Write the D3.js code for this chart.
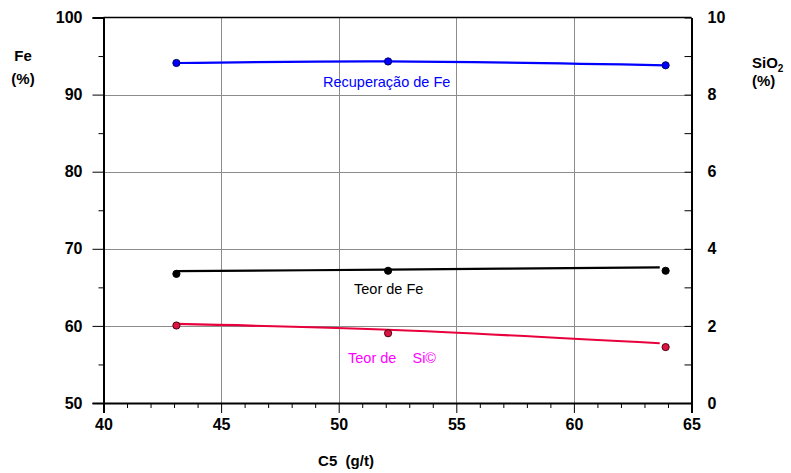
<!DOCTYPE html>
<html>
<head>
<meta charset="utf-8">
<script src="https://cdn.jsdelivr.net/npm/d3@7"></script>
<style>
  html, body { margin: 0; padding: 0; background: #ffffff; }
  svg { display: block; }
  text { font-family: "Liberation Sans", Arial, sans-serif; }
</style>
</head>
<body>
<svg id="chart" width="791" height="473"></svg>
<script>
// Collector dosage C5 (g/t)
const dosage = [43.1, 52.1, 63.9];

// Measured points
const recuperacaoFe = [94.1, 94.3, 93.8];   // Fe recovery (%) - left axis
const teorFe = [66.75, 67.15, 67.15];        // Fe grade (%) - left axis
const teorSiO2 = [2.01, 1.81, 1.45];        // SiO2 grade (%) - right axis

// Fitted trend curves for the grades
const trendDosage = [43.1, 52.1, 63.65];
const trendFe = [67.1, 67.3, 67.6];
const trendSiO2 = [2.05, 1.90, 1.55];

// Axis ticks
const xTicks = [40, 45, 50, 55, 60, 65];
const xMinorTicks = d3.range(40, 66, 1);
const yLeftTicks = [50, 60, 70, 80, 90, 100];
const yLeftMinor = [55, 65, 75, 85, 95];
const yRightTicks = [0, 2, 4, 6, 8, 10];
const yRightMinor = [1, 3, 5, 7, 9];

const plot = { left: 103.5, right: 691.5, top: 17.5, bottom: 403 };

const svg = d3.select("#chart");

const x = d3.scaleLinear().domain([40, 65]).range([plot.left, plot.right]);
const yL = d3.scaleLinear().domain([50, 100]).range([plot.bottom, plot.top]);
const yR = d3.scaleLinear().domain([0, 10]).range([plot.bottom, plot.top]);

// Gridlines
const grid = svg.append("g").attr("stroke", "#8c8c8c").attr("stroke-width", 1);
grid.selectAll("line.v").data(xTicks.slice(1, -1)).join("line")
  .attr("x1", d => Math.round(x(d)) + 0.5).attr("x2", d => Math.round(x(d)) + 0.5)
  .attr("y1", plot.top).attr("y2", plot.bottom);
grid.selectAll("line.h").data(yLeftTicks.slice(1, -1)).join("line")
  .attr("y1", d => Math.round(yL(d)) + 0.5).attr("y2", d => Math.round(yL(d)) + 0.5)
  .attr("x1", plot.left).attr("x2", plot.right);

// Left axis
const leftAxis = d3.axisLeft(yL).tickValues(yLeftTicks).tickSize(11).tickPadding(10).tickFormat(d3.format("d"));
const gL = svg.append("g").attr("transform", `translate(${plot.left},0)`).call(leftAxis);
gL.selectAll(".tick line").attr("stroke", "#000").attr("stroke-width", 1);
svg.append("g").attr("transform", `translate(${plot.left},0)`)
  .call(d3.axisLeft(yL).tickValues(yLeftMinor).tickSize(5).tickFormat(""))
  .call(g => g.select(".domain").remove());

// Right axis (ticks point inward)
const rightAxis = d3.axisRight(yR).tickValues(yRightTicks).tickSizeInner(-7).tickSizeOuter(0).tickPadding(16).tickFormat(d3.format("d"));
const gR = svg.append("g").attr("transform", `translate(${plot.right},0)`).call(rightAxis);
svg.append("g").attr("transform", `translate(${plot.right},0)`)
  .call(d3.axisRight(yR).tickValues(yRightMinor).tickSizeInner(-7).tickSizeOuter(0).tickFormat(""))
  .call(g => g.select(".domain").remove());

// Bottom axis
const bottomAxis = d3.axisBottom(x).tickValues(xTicks).tickSize(10).tickPadding(6).tickFormat(d3.format("d"));
const gB = svg.append("g").attr("transform", `translate(0,${plot.bottom})`).call(bottomAxis);
svg.append("g").attr("transform", `translate(0,${plot.bottom})`)
  .call(d3.axisBottom(x).tickValues(xMinorTicks.filter(v => v % 5 !== 0)).tickSize(5).tickFormat(""))
  .call(g => g.select(".domain").remove());

// Top frame
svg.append("line").attr("x1", plot.left).attr("x2", plot.right)
  .attr("y1", plot.top).attr("y2", plot.top).attr("stroke", "#000").attr("stroke-width", 1.5);

[gL, gR, gB].forEach(g => {
  g.select(".domain").attr("stroke", "#000").attr("stroke-width", 2);
  g.selectAll(".tick text").attr("fill", "#000").attr("font-size", 16).attr("font-weight", "bold")
    .attr("font-family", "Liberation Sans, Arial, sans-serif");
});

// Axis titles
const title = (t, xx, yy, anchor) => svg.append("text").attr("x", xx).attr("y", yy)
  .attr("text-anchor", anchor || "middle").attr("font-size", 15).attr("font-weight", "bold").text(t);
title("Fe", 23, 61);
title("(%)", 23, 84);
const sio2 = svg.append("text").attr("x", 752).attr("y", 68).attr("font-size", 15).attr("font-weight", "bold");
sio2.append("tspan").text("SiO");
sio2.append("tspan").attr("font-size", 10).attr("dy", 4).text("2");
title("(%)", 752, 86, "start");
title("C5  (g/t)", 346, 466).style("white-space", "pre");

// Curves
const line = (xs, ys, yScale) => d3.line().curve(d3.curveCatmullRom.alpha(0.5))
  .x((d, i) => x(xs[i])).y(d => yScale(d))(ys);

svg.append("path").attr("d", line(dosage, recuperacaoFe, yL))
  .attr("fill", "none").attr("stroke", "#0000ff").attr("stroke-width", 2.2);
svg.append("path").attr("d", line(trendDosage, trendFe, yL))
  .attr("fill", "none").attr("stroke", "#000").attr("stroke-width", 2.2);
svg.append("path").attr("d", line(trendDosage, trendSiO2, yR))
  .attr("fill", "none").attr("stroke", "#e8003c").attr("stroke-width", 2.2);

// Points
const dots = (ys, yScale, fill, stroke) => svg.append("g").selectAll("circle").data(ys).join("circle")
  .attr("cx", (d, i) => x(dosage[i])).attr("cy", d => yScale(d)).attr("r", 3.6)
  .attr("fill", fill).attr("stroke", stroke).attr("stroke-width", 1);
dots(recuperacaoFe, yL, "#0000ff", "#000060");
dots(teorFe, yL, "#000", "#000");
dots(teorSiO2, yR, "#dc1442", "#500010");

// Series labels
const label = (t, xx, yy, c) => svg.append("text").attr("x", xx).attr("y", yy)
  .attr("font-size", 14.5).attr("fill", c).style("white-space", "pre").text(t);
label("Recuperação de Fe", 323, 87, "#0000ff");
label("Teor de Fe", 354, 294, "#000");
label("Teor de    Si©", 348, 363, "#ff00ff");
</script>
</body>
</html>
